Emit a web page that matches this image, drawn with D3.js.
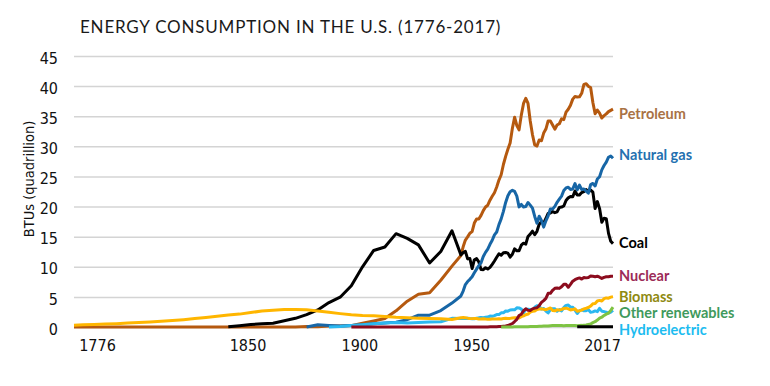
<!DOCTYPE html>
<html>
<head>
<meta charset="utf-8">
<script src="https://cdn.jsdelivr.net/npm/d3@7"></script>
<style>
  body { margin: 0; background: #fff; }
  svg { display: block; }
  .narrow { font-family: "Liberation Sans Narrow", "DejaVu Sans Condensed", sans-serif; font-stretch: condensed; }
</style>
</head>
<body>
<svg id="chart" width="770" height="386"></svg>
<script>
// years: 5-year steps before 1949, annual afterwards
const earlyYears = [1776, 1780, 1785, 1790, 1795, 1800, 1805, 1810, 1815, 1820, 1825, 1830, 1835, 1840,
  1845, 1850, 1855, 1860, 1865, 1870, 1875, 1880, 1885, 1890, 1895, 1900, 1905, 1910, 1915, 1920,
  1925, 1930, 1935, 1940, 1945];
const annualYears = d3.range(1949, 2018);

const xTicks = [1776, 1850, 1900, 1950, 2017];
const yTicks = [0, 5, 10, 15, 20, 25, 30, 35, 40, 45];

// early values line up with earlyYears (null = not drawn)
const petroleumEarly = [0, 0, 0, 0, 0, 0, 0, 0, 0, 0, 0, 0, 0, 0, 0, 0, 0,
  0.003, 0.02, 0.01, 0.02, 0.10, 0.04, 0.16, 0.17, 0.23, 0.61, 1.01, 1.42, 2.68, 4.28, 5.43, 5.68, 7.76, 10.11];
const petroleumAnnual = [11.88,
  13.32, 14.43, 14.96, 15.56, 15.84, 17.26, 17.94, 17.93, 18.53, 19.32,
  19.92, 20.22, 21.05, 21.70, 22.30, 23.25, 24.40, 25.28, 26.98, 28.34,
  29.52, 30.56, 32.95, 34.84, 33.46, 32.73, 35.18, 37.12, 37.97, 37.12,
  34.20, 31.93, 30.23, 30.05, 31.05, 30.92, 32.20, 32.87, 34.22, 34.21,
  33.55, 32.85, 33.53, 33.75, 34.56, 34.44, 35.68, 36.16, 36.82, 37.84,
  38.26, 38.19, 38.22, 38.81, 40.29, 40.39, 39.96, 39.77, 37.28, 35.40,
  36.01, 35.50, 34.70, 35.10, 35.39, 35.77, 35.98, 36.17];

const coalEarly = [null, null, null, null, null, null, null, null, null, null, null, null, null, null,
  0.05, 0.22, 0.42, 0.52, 0.63, 1.05, 1.44, 2.05, 2.84, 4.06, 4.95, 6.84, 10.00, 12.71, 13.29, 15.50,
  14.71, 13.64, 10.63, 12.54, 15.97];
const coalAnnual = [11.98,
  12.35, 12.55, 11.31, 11.37, 9.71, 11.17, 11.35, 10.82, 9.53, 9.52,
  9.84, 9.62, 9.91, 10.41, 10.96, 11.58, 12.14, 11.91, 12.33, 12.38,
  12.27, 11.60, 12.08, 12.97, 12.66, 12.66, 13.58, 13.92, 13.77, 15.04,
  15.42, 15.91, 15.32, 15.89, 17.07, 17.48, 17.26, 18.01, 18.85, 18.93,
  19.17, 18.99, 19.12, 19.84, 19.91, 20.09, 21.00, 21.45, 21.66, 21.62,
  22.58, 21.91, 21.90, 22.32, 22.47, 22.80, 22.45, 22.75, 22.39, 19.69,
  20.83, 19.66, 17.38, 18.04, 17.99, 15.55, 14.23, 13.84];

const gasEarly = [null, null, null, null, null, null, null, null, null, null, null, null, null, null,
  null, null, null, null, null, null, null, 0, 0.37, 0.26, 0.15, 0.25, 0.37, 0.54, 0.67, 0.81,
  1.21, 1.97, 1.97, 2.73, 3.97];
const gasAnnual = [5.15,
  5.97, 7.05, 7.55, 7.91, 8.33, 9.00, 9.61, 10.19, 10.66, 11.72,
  12.39, 12.93, 13.73, 14.40, 15.29, 15.77, 17.00, 17.95, 19.21, 20.68,
  21.80, 22.47, 22.70, 22.51, 21.73, 19.95, 20.35, 19.93, 20.00, 20.67,
  20.24, 19.75, 18.36, 17.22, 18.39, 17.70, 16.59, 17.64, 18.45, 19.60,
  19.60, 20.03, 20.71, 21.23, 21.73, 22.67, 23.09, 23.22, 22.83, 22.91,
  23.82, 22.77, 23.56, 22.83, 22.91, 22.56, 22.22, 23.66, 23.84, 23.42,
  24.58, 24.96, 26.09, 26.81, 27.38, 28.19, 28.40, 28.03];

const hydroEarly = [null, null, null, null, null, null, null, null, null, null, null, null, null, null,
  null, null, null, null, null, null, null, null, null, 0.02, 0.09, 0.25, 0.39, 0.54, 0.66, 0.74,
  0.67, 0.75, 0.81, 0.88, 1.44];
const hydroAnnual = [1.43,
  1.42, 1.42, 1.47, 1.41, 1.36, 1.36, 1.44, 1.52, 1.59, 1.55,
  1.61, 1.66, 1.82, 1.77, 1.89, 2.06, 2.06, 2.35, 2.35, 2.65,
  2.63, 2.82, 2.86, 2.86, 3.18, 3.16, 2.98, 2.33, 2.94, 2.93,
  2.90, 2.76, 3.27, 3.53, 3.39, 2.97, 3.07, 2.64, 2.33, 2.84,
  3.05, 3.02, 2.62, 2.89, 2.68, 3.21, 3.59, 3.64, 3.30, 3.27,
  2.81, 2.24, 2.69, 2.83, 2.69, 2.70, 2.87, 2.45, 2.51, 2.67,
  2.54, 3.10, 2.63, 2.56, 2.47, 2.32, 2.47, 2.77];

const biomassEarly = [0.30, 0.36, 0.42, 0.48, 0.56, 0.65, 0.74, 0.83, 0.94, 1.06, 1.22, 1.40, 1.58, 1.78,
  1.98, 2.14, 2.40, 2.64, 2.78, 2.89, 2.90, 2.85, 2.65, 2.45, 2.22, 2.02, 1.90, 1.86, 1.74, 1.61,
  1.53, 1.46, 1.40, 1.36, 1.26];
const biomassAnnual = [1.55,
  1.56, 1.54, 1.47, 1.42, 1.39, 1.42, 1.42, 1.33, 1.32, 1.35,
  1.32, 1.30, 1.30, 1.32, 1.34, 1.34, 1.37, 1.34, 1.42, 1.44,
  1.43, 1.43, 1.50, 1.53, 1.54, 1.50, 1.71, 1.84, 2.04, 2.15,
  2.48, 2.60, 2.66, 2.90, 2.97, 3.02, 2.93, 2.88, 3.02, 3.16,
  2.74, 2.68, 2.85, 2.80, 2.94, 3.07, 3.13, 3.01, 2.84, 2.89,
  3.01, 2.62, 2.71, 2.81, 3.01, 3.11, 3.23, 3.47, 3.85, 3.90,
  4.32, 4.42, 4.31, 4.70, 4.83, 4.79, 4.96, 5.04];

const nuclearEarly = [null, null, null, null, null, null, null, null, null, null, null, null, null, null,
  null, null, null, null, null, null, null, null, null, null, null, 0, 0, 0, 0, 0, 0, 0, 0, 0, 0];
const nuclearAnnual = [0,
  0, 0, 0, 0, 0, 0, 0, 0, 0.002, 0.002,
  0.006, 0.02, 0.026, 0.038, 0.04, 0.043, 0.064, 0.088, 0.142, 0.154,
  0.24, 0.41, 0.58, 0.91, 1.27, 1.90, 2.11, 2.70, 3.02, 2.78,
  2.74, 3.01, 3.13, 3.20, 3.55, 4.08, 4.38, 4.75, 5.59, 5.60,
  6.10, 6.42, 6.48, 6.41, 6.69, 7.08, 7.09, 6.60, 7.07, 7.61,
  7.86, 8.03, 8.15, 7.96, 8.22, 8.16, 8.22, 8.46, 8.43, 8.36,
  8.43, 8.27, 8.06, 8.24, 8.34, 8.34, 8.43, 8.42];

const otherRenewablesAnnual = [null,
  null, null, null, null, null, null, null, null, null, null,
  null, null, null, null, null, null, null, 0.01, 0.01, 0.01,
  0.01, 0.01, 0.02, 0.03, 0.04, 0.05, 0.05, 0.06, 0.05, 0.06,
  0.08, 0.09, 0.08, 0.10, 0.12, 0.14, 0.15, 0.16, 0.16, 0.22,
  0.24, 0.26, 0.25, 0.26, 0.25, 0.22, 0.23, 0.23, 0.23, 0.24,
  0.24, 0.22, 0.26, 0.27, 0.30, 0.33, 0.42, 0.50, 0.72, 0.88,
  1.15, 1.46, 1.62, 1.92, 2.14, 2.31, 2.76, 3.30];

// short black segment sitting on the zero line at the far right
const netImportsAnnual = annualYears.map(yr => yr >= 2001 ? 0.05 : null);

const series = [
  {name: 'Petroleum', early: petroleumEarly, annual: petroleumAnnual, color: '#b5590f', labelColor: '#a97245', labelAt: 35.5},
  {name: 'Coal', early: coalEarly, annual: coalAnnual, color: '#000000', labelColor: '#000000', labelAt: 13.95},
  {name: 'Natural gas', early: gasEarly, annual: gasAnnual, color: '#1766a6', labelColor: '#2470b0', labelAt: 28.7},
  {name: 'Hydroelectric', early: hydroEarly, annual: hydroAnnual, color: '#2bb8f0', labelColor: '#1dbcf0', labelAt: -0.4},
  {name: 'Biomass', early: biomassEarly, annual: biomassAnnual, color: '#ffb600', labelColor: '#8f8a12', labelAt: 5.05},
  {name: 'Nuclear', early: nuclearEarly, annual: nuclearAnnual, color: '#8c0c1e', labelColor: '#9c2b57', labelAt: 8.47},
  {name: 'Other renewables', early: null, annual: otherRenewablesAnnual, color: '#7ec343', labelColor: '#3f9a5c', labelAt: 2.35},
  {name: '', early: null, annual: netImportsAnnual, color: '#000000', labelColor: null, labelAt: null}
];

const svg = d3.select('#chart');
const x = d3.scaleLinear().domain([1776, 2017]).range([74, 613]);
const y = d3.scaleLinear().domain([0, 45]).range([327, 56]);

// title
svg.append('text')
  .attr('x', 80).attr('y', 33)
  .style('font-family', 'Lato, "Open Sans", sans-serif')
  .style('font-size', '17px')
  .style('letter-spacing', '0.8px')
  .style('fill', '#1a1a1a')
  .text('ENERGY CONSUMPTION IN THE U.S. (1776-2017)');

// y axis + grid
const yAxis = svg.append('g')
  .attr('transform', 'translate(74,0)')
  .call(d3.axisLeft(y).tickValues(yTicks).tickSize(-(613 - 74)).tickPadding(16));
yAxis.select('.domain').remove();
yAxis.selectAll('line').attr('stroke', '#d4d4d4').attr('stroke-width', 1.5);
yAxis.selectAll('text').attr('class', 'narrow').style('font-size', '16px').attr('fill', '#111').attr('dy', '0.45em');

svg.append('text')
  .attr('class', 'narrow')
  .attr('transform', 'translate(29,179) rotate(-90)')
  .attr('text-anchor', 'middle')
  .attr('dominant-baseline', 'central')
  .style('font-size', '14.5px')
  .style('fill', '#111')
  .text('BTUs (quadrillion)');

// x axis
const xAxis = svg.append('g')
  .attr('transform', 'translate(0,327)')
  .call(d3.axisBottom(x).tickValues(xTicks).tickFormat(d3.format('d')).tickSize(0).tickPadding(13));
xAxis.select('.domain').remove();
xAxis.selectAll('text').attr('class', 'narrow').style('font-size', '16px').attr('fill', '#111')
  .attr('dx', (d, i) => i === 0 ? 23 : (i === xTicks.length - 1 ? -11 : 8));

// lines
const line = d3.line()
  .defined(d => d[1] != null)
  .x(d => x(d[0]))
  .y(d => y(d[1]));

series.forEach(s => {
  const pts = [];
  if (s.early) earlyYears.forEach((yr, i) => pts.push([yr, s.early[i]]));
  annualYears.forEach((yr, i) => pts.push([yr, s.annual[i]]));
  svg.append('path')
    .datum(pts)
    .attr('fill', 'none')
    .attr('stroke', s.color)
    .attr('stroke-width', 3)
    .attr('stroke-linejoin', 'round')
    .attr('stroke-linecap', 'butt')
    .attr('d', line);
});

// end labels
svg.append('g').selectAll('text')
  .data(series.filter(s => s.name))
  .join('text')
  .attr('x', 619)
  .attr('y', d => y(d.labelAt))
  .attr('dominant-baseline', 'central')
  .style('font-family', 'Lato, "Open Sans", sans-serif')
  .style('font-weight', 'bold')
  .style('font-size', '14.5px')
  .style('fill', d => d.labelColor)
  .text(d => d.name);
</script>
</body>
</html>
